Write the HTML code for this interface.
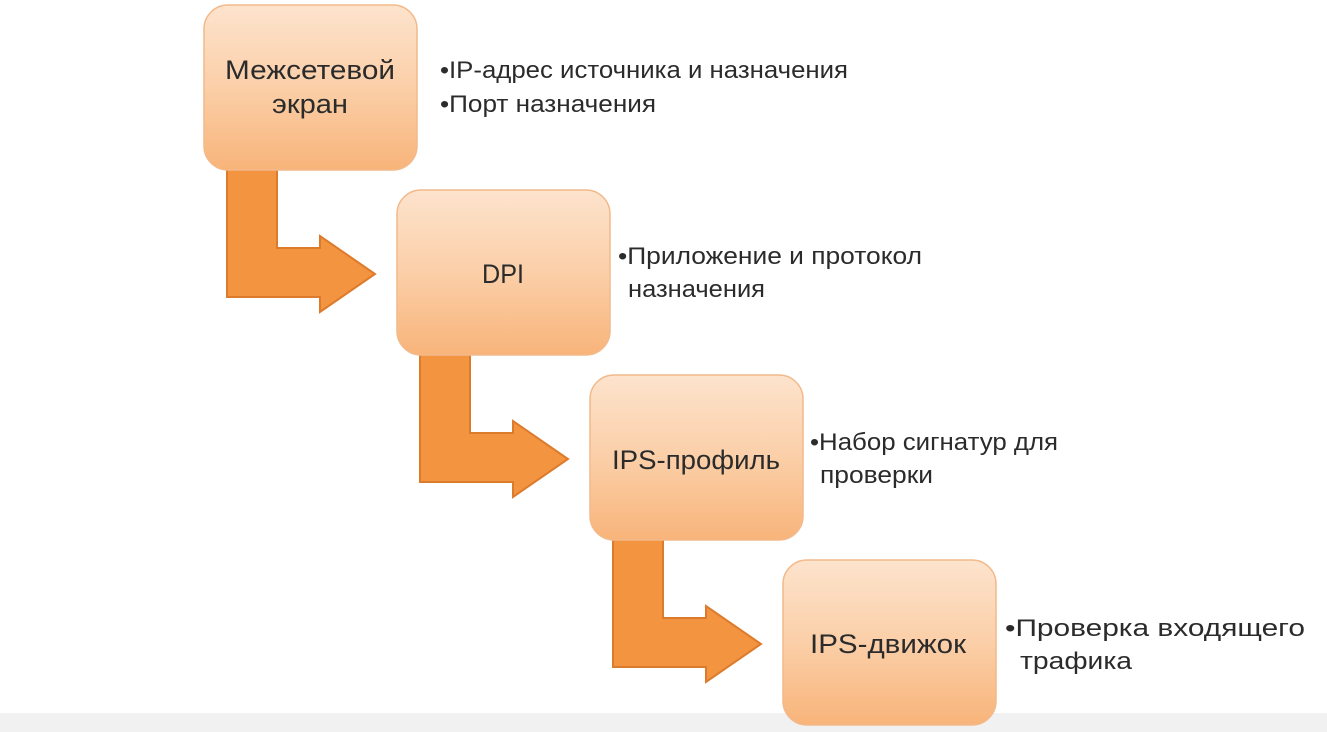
<!DOCTYPE html>
<html><head><meta charset="utf-8"><style>
html,body{margin:0;padding:0;background:#fff;}
svg{display:block;}
text{font-family:"Liberation Sans","DejaVu Sans",sans-serif;fill:#2b2b2b;}
</style></head><body>
<svg width="1327" height="732" viewBox="0 0 1327 732" xmlns="http://www.w3.org/2000/svg">
<defs>
<linearGradient id="g" x1="0" y1="0" x2="0" y2="1">
<stop offset="0" stop-color="#fde3cd"/>
<stop offset="0.5" stop-color="#fbcfa8"/>
<stop offset="1" stop-color="#f8b47a"/>
</linearGradient>
<g id="arr">
<path d="M227 168 L277 168 L277 248 L320 248 L320 236 L375 274 L320 312 L320 297 L227 297 Z" fill="#f39440" stroke="#dd7b2c" stroke-width="2"/>
</g>
<g id="box">
<rect x="204" y="5" width="213" height="165" rx="24" fill="url(#g)" stroke="#f2b98a" stroke-width="1.5"/>
</g>
</defs>
<rect x="0" y="713" width="1327" height="19" fill="#f1f1f1"/>
<use href="#arr"/>
<use href="#arr" transform="translate(193,185)"/>
<use href="#arr" transform="translate(386,370)"/>
<use href="#box"/>
<use href="#box" transform="translate(193,185)"/>
<use href="#box" transform="translate(386,370)"/>
<use href="#box" transform="translate(579,555)"/>

<g font-size="27">
<text x="225" y="79" textLength="170" lengthAdjust="spacingAndGlyphs">Межсетевой</text>
<text x="272" y="113" textLength="76" lengthAdjust="spacingAndGlyphs">экран</text>
<text x="482" y="283" textLength="42" lengthAdjust="spacingAndGlyphs">DPI</text>
<text x="612" y="469" textLength="168" lengthAdjust="spacingAndGlyphs">IPS-профиль</text>
<text x="810" y="653" textLength="156" lengthAdjust="spacingAndGlyphs">IPS-движок</text>
</g>
<g font-size="24">
<text x="440" y="78" textLength="408" lengthAdjust="spacingAndGlyphs">•IP-адрес источника и назначения</text>
<text x="440" y="112" textLength="216" lengthAdjust="spacingAndGlyphs">•Порт назначения</text>
<text x="618" y="264" textLength="304" lengthAdjust="spacingAndGlyphs">•Приложение и протокол</text>
<text x="628" y="297" textLength="137" lengthAdjust="spacingAndGlyphs">назначения</text>
<text x="810" y="450" textLength="248" lengthAdjust="spacingAndGlyphs">•Набор сигнатур для</text>
<text x="820" y="483" textLength="113" lengthAdjust="spacingAndGlyphs">проверки</text>
<text x="1005" y="636" textLength="300" lengthAdjust="spacingAndGlyphs">•Проверка входящего</text>
<text x="1020" y="669" textLength="112" lengthAdjust="spacingAndGlyphs">трафика</text>
</g>
</svg>
</body></html>
